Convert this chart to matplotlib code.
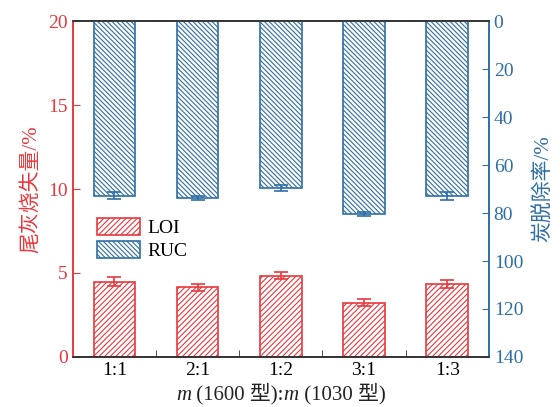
import numpy as np
import matplotlib.pyplot as plt
from matplotlib.offsetbox import TextArea, HPacker, AnchoredOffsetbox

plt.rcParams['font.family'] = ['Liberation Serif', 'Noto Sans CJK SC']
plt.rcParams['hatch.linewidth'] = 0.8

# 数据
categories = ['1:1', '2:1', '1:2', '3:1', '1:3']
loi = [4.48, 4.15, 4.85, 3.23, 4.35]
loi_err = [0.28, 0.2, 0.18, 0.22, 0.25]
ruc = [72.8, 73.8, 69.6, 80.4, 72.8]
ruc_err = [1.5, 0.9, 1.4, 0.8, 1.6]

red = '#e8383d'
blue = '#2e6ea5'

fig = plt.figure(figsize=(5.6, 4.07), dpi=100)
ax = fig.add_axes([0.130, 0.123, 0.743, 0.825])
ax2 = ax.twinx()

x = np.arange(len(categories))
w = 0.5

b1 = ax.bar(x, loi, w, color='white', edgecolor=red, hatch='//////', linewidth=1.2,
            yerr=loi_err, ecolor=red, capsize=5, error_kw={'elinewidth': 1.2, 'capthick': 1.2},
            label='LOI', zorder=2)
b2 = ax2.bar(x, ruc, w, color='white', edgecolor=blue, hatch='\\' * 7, linewidth=1.2,
             yerr=ruc_err, ecolor=blue, capsize=5, error_kw={'elinewidth': 1.2, 'capthick': 1.2},
             label='RUC', zorder=2)

ax.set_xlim(-0.5, 4.5)
ax.set_ylim(0, 20)
ax.set_yticks([0, 5, 10, 15, 20])
ax2.set_ylim(140, 0)
ax2.set_yticks(range(0, 141, 20))

# x轴刻度
ax.set_xticks(x)
ax.set_xticklabels(categories, fontsize=14)
ax.set_xticks([0.5, 1.5, 2.5, 3.5], minor=True)
ax.tick_params(axis='x', which='major', length=0, pad=4)
ax.tick_params(axis='x', which='minor', direction='in', length=5, color='#333333')

ax.tick_params(axis='y', direction='in', length=5, colors=red, labelsize=14)
ax2.tick_params(axis='y', direction='in', length=5, colors=blue, labelsize=14)

for a in (ax, ax2):
    a.spines['left'].set_color(red)
    a.spines['right'].set_color(blue)
    a.spines['bottom'].set_color('#333333')
    a.spines['top'].set_color('#333333')
    for s in a.spines.values():
        s.set_linewidth(1.2)

ax.set_ylabel('尾灰烧失量/%', color=red, fontsize=15, labelpad=5)
ax2.set_ylabel('炭脱除率/%', color=blue, fontsize=15, labelpad=8)

# x轴标题（m 用斜体）
tp = dict(fontsize=15, color='#222222')
parts = [TextArea('m', textprops=dict(style='italic', **tp)),
         TextArea(' (1600 型):', textprops=tp),
         TextArea('m', textprops=dict(style='italic', **tp)),
         TextArea(' (1030 型)', textprops=tp)]
box = HPacker(children=parts, align='baseline', pad=0, sep=0)
xl = AnchoredOffsetbox(loc='center', child=box, frameon=False, pad=0,
                       bbox_to_anchor=(0.5, -0.11), bbox_transform=ax.transAxes,
                       borderpad=0)
ax.add_artist(xl)

ax2.legend([b1, b2], ['LOI', 'RUC'], loc='upper left', bbox_to_anchor=(0.025, 0.455),
           frameon=False, fontsize=14, handlelength=2.2, handleheight=1.0,
           handletextpad=0.4, labelspacing=0.2, borderpad=0.2)

plt.savefig('out.png', dpi=100)
